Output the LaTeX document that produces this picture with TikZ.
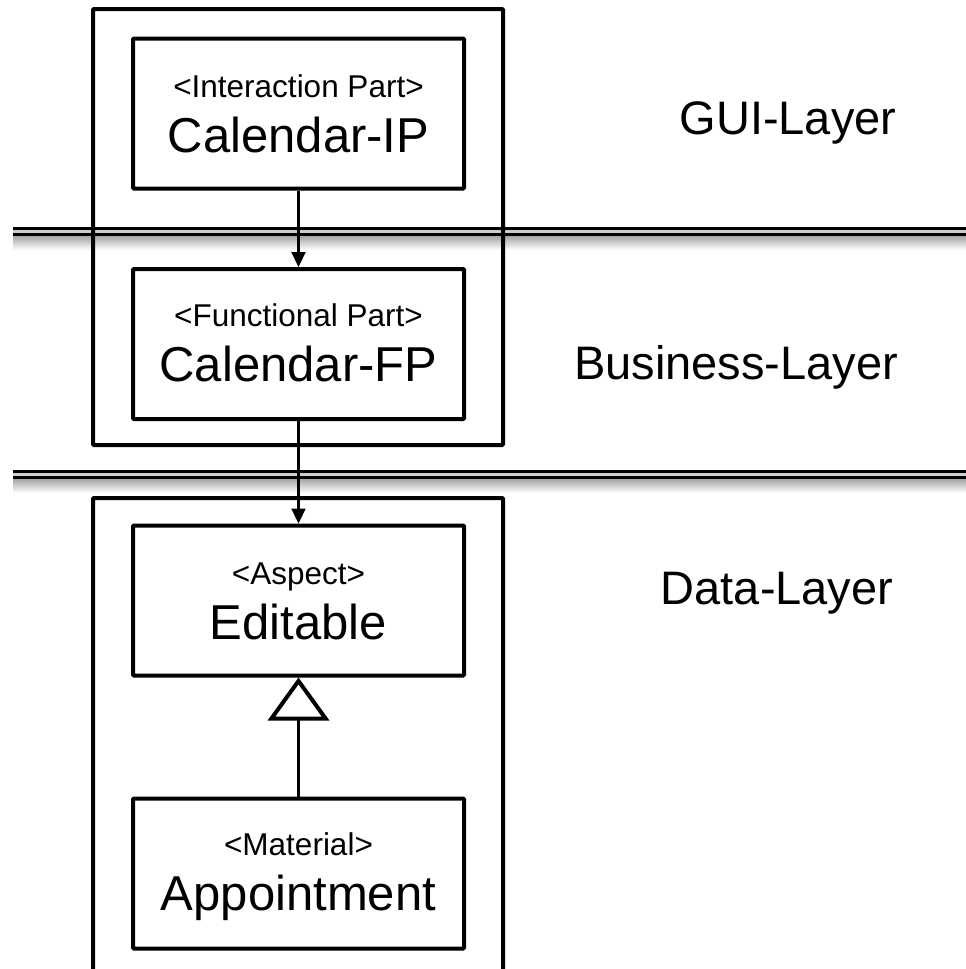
\documentclass[tikz,border=0pt]{standalone}
\usepackage{fontspec}
\setmainfont{Liberation Sans}
\usetikzlibrary{arrows.meta}
\tikzset{
  cbox/.style={draw, line width=4pt, minimum width=331pt, minimum height=150pt, inner sep=0pt, rounded corners=1pt},
  frame/.style={draw, line width=4pt, rounded corners=1pt},
  small/.style={anchor=base, inner sep=0pt, font=\fontsize{31.5}{33}\selectfont},
  big/.style={anchor=base, inner sep=0pt, font=\fontsize{49}{51}\selectfont},
  layer/.style={anchor=base, inner sep=0pt, font=\fontsize{47}{49}\selectfont},
  dep/.style={line width=2.2pt, -{Triangle[length=15pt,width=14pt]}},
  inh/.style={line width=2.2pt, -{Triangle[open,length=43pt,width=61pt,line width=4pt,fill=white]}},
  sep/.style={line width=3pt},
}
\begin{document}
\begin{tikzpicture}[x=1pt,y=-1pt]
\useasboundingbox (0,0) rectangle (966,969);
\clip (0,0) rectangle (966,969);
\fill[white] (0,0) rectangle (966,969);

% layer separators with shadow
\foreach \y in {228,471}{
  \shade[top color=black!35, bottom color=white] (13,\y+8) rectangle (966,\y+22);
  \fill[black!20] (13,\y+2) rectangle (966,\y+5);
  \draw[sep] (13,\y) -- (966,\y);
  \draw[sep] (13,\y+6) -- (966,\y+6);
}

% component frames
\draw[frame] (93,9) rectangle (503,445);
\draw[frame] (93,990) -- (93,498) -- (503,498) -- (503,990);

% boxes
\node[cbox] (ip)  at (298.5,113.5) {};
\node[cbox] (fp)  at (298.5,344) {};
\node[cbox] (ed)  at (298.5,600.5) {};
\node[cbox] (ap)  at (298.5,873.5) {};

% texts
\node[small] (ipS) at (298.5,97) {<Interaction Part>};
\node[big]   (ipB) at (298.5,152) {Calendar-IP};
\node[small] (fpS) at (298.5,326) {<Functional Part>};
\node[big]   (fpB) at (298.5,381) {Calendar-FP};
\node[small] (edS) at (298.5,584) {<Aspect>};
\node[big]   (edB) at (298.5,639) {Editable};
\node[small] (apS) at (298.5,855) {<Material>};
\node[big]   (apB) at (298.5,910) {Appointment};

\node[layer] (gui) at (788,134) {GUI-Layer};
\node[layer] (bus) at (736,379) {Business-Layer};
\node[layer] (dat) at (777,604) {Data-Layer};

% connectors
\draw[dep] (ip.south) -- (fp.north);
\draw[dep] (fp.south) -- (ed.north);
\draw[inh] (ap.north) -- (ed.south);
\end{tikzpicture}
\end{document}
